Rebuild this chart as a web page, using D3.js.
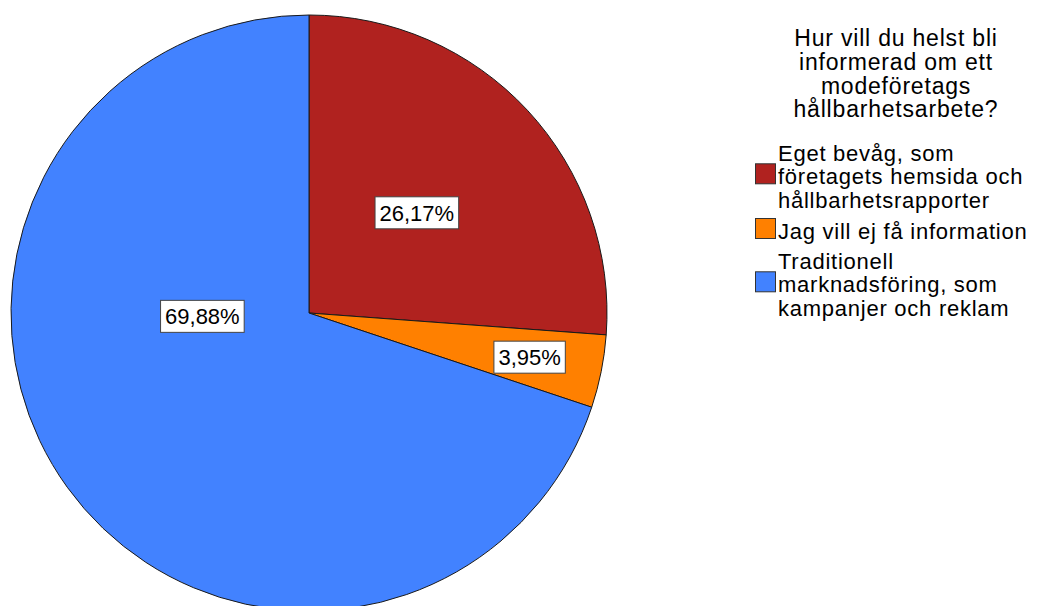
<!DOCTYPE html>
<html>
<head>
<meta charset="utf-8">
<script src="https://cdn.jsdelivr.net/npm/d3@7"></script>
<style>
  html, body { margin: 0; padding: 0; background: #fff; }
  svg { display: block; }
  text { font-family: "Liberation Sans", Arial, sans-serif; fill: #000; }
</style>
</head>
<body>
<svg id="chart" width="1039" height="606"></svg>
<script>
// Survey answers: share of respondents per preferred information channel (%)
const categories = [
  "Eget bevåg, som företagets hemsida och hållbarhetsrapporter",
  "Jag vill ej få information",
  "Traditionell marknadsföring, som kampanjer och reklam"
];
const shares = [26.17, 3.95, 69.88];
const shareLabels = ["26,17%", "3,95%", "69,88%"];
const sliceColors = ["#b0221f", "#ff8000", "#4282ff"];

// Legend text, broken into lines as displayed
const legendTitle = ["Hur vill du helst bli", "informerad om ett", "modeföretags", "hållbarhetsarbete?"];
const legendLines = [
  ["Eget bevåg, som", "företagets hemsida och", "hållbarhetsrapporter"],
  ["Jag vill ej få information"],
  ["Traditionell", "marknadsföring, som", "kampanjer och reklam"]
];

// Label anchors: angle in degrees (null = slice mid angle) and distance as a fraction of the radius
const labelAnchors = [
  { angle: null, r: 0.494 },
  { angle: null, r: 0.755 },
  { angle: 268.2, r: 0.358 }
];

const svg = d3.select("#chart");
const cx = 309, cy = 313, radius = 298;

const pie = d3.pie().sort(null).value(d => d)(shares);
const arc = d3.arc().innerRadius(0).outerRadius(radius);

const g = svg.append("g").attr("transform", `translate(${cx},${cy})`);

g.selectAll("path.slice")
  .data(pie)
  .join("path")
  .attr("class", "slice")
  .attr("d", arc)
  .attr("fill", (d, i) => sliceColors[i])
  .attr("stroke", "#1a1a1a")
  .attr("stroke-width", 1)
  .attr("stroke-linejoin", "round");

// Value labels in white boxes
const labelG = g.selectAll("g.lbl")
  .data(pie)
  .join("g")
  .attr("class", "lbl")
  .attr("transform", (d, i) => {
    const a = labelAnchors[i].angle === null
      ? (d.startAngle + d.endAngle) / 2
      : labelAnchors[i].angle * Math.PI / 180;
    const r = labelAnchors[i].r * radius;
    return `translate(${r * Math.sin(a)},${-r * Math.cos(a)})`;
  });

labelG.each(function(d, i) {
  const sel = d3.select(this);
  const t = sel.append("text")
    .attr("text-anchor", "middle")
    .attr("dy", "0.36em")
    .style("font-size", "22px")
    .text(shareLabels[i]);
  const bb = t.node().getBBox();
  const padX = 4.5, h = 32;
  sel.insert("rect", "text")
    .attr("x", bb.x - padX)
    .attr("y", -h / 2)
    .attr("width", bb.width + padX * 2)
    .attr("height", h)
    .attr("fill", "#fff")
    .attr("stroke", "#444")
    .attr("stroke-width", 1);
});

// Legend title
const titleX = 896, titleTop = 46, titleStep = 23.8;
svg.append("g").selectAll("text")
  .data(legendTitle)
  .join("text")
  .attr("x", titleX)
  .attr("y", (d, i) => titleTop + i * titleStep)
  .attr("text-anchor", "middle")
  .style("font-size", "23px")
  .style("letter-spacing", "0.8px")
  .text(d => d);

// Legend entries
const lineStep = 23.3;
const entryTops = [161, 239, 269];
const swX = 755, sw = 21, textX = 778;
const legend = svg.append("g");
legendLines.forEach((lines, i) => {
  const top = entryTops[i];
  const mid = Math.floor((lines.length - 1) / 2);
  const midBase = top + mid * lineStep;
  legend.append("rect")
    .attr("x", swX + 0.5)
    .attr("y", midBase - sw + 0.5)
    .attr("width", sw - 1)
    .attr("height", sw - 1)
    .attr("fill", sliceColors[i])
    .attr("stroke", "#333")
    .attr("stroke-width", 1);
  lines.forEach((ln, j) => {
    legend.append("text")
      .attr("x", textX)
      .attr("y", top + j * lineStep)
      .style("font-size", "22px")
      .style("letter-spacing", "0.75px")
      .text(ln);
  });
});
</script>
</body>
</html>
